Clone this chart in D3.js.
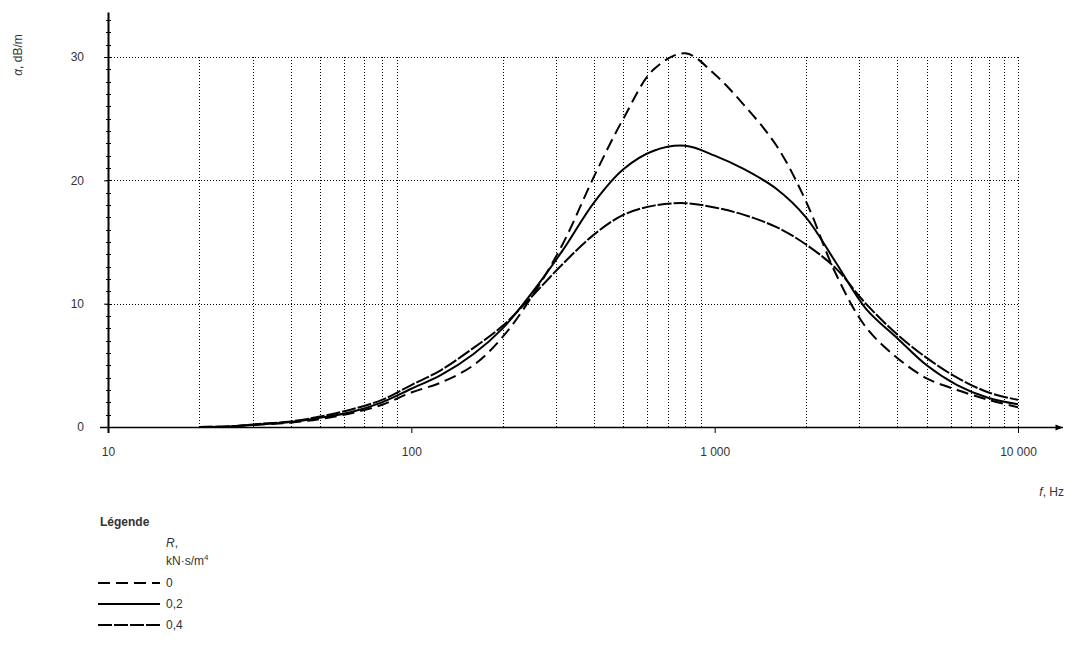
<!DOCTYPE html>
<html>
<head>
<meta charset="utf-8">
<script src="https://cdn.jsdelivr.net/npm/d3@7"></script>
<style>
body { margin: 0; background: #fff; }
svg text { font-family: "Liberation Sans", Arial, sans-serif; font-size: 12px; fill: #333; }
</style>
</head>
<body>
<svg width="1077" height="664"></svg>
<script>
// frequencies, Hz
var freqs = [20, 25, 31.5, 40, 50, 63, 80, 100, 125, 160, 200, 250, 315, 400, 500, 630, 800,
	1000, 1250, 1600, 2000, 2500, 3150, 4000, 5000, 6300, 8000, 10000];

// attenuation, dB/m, one array per R value
var r0 = [0, 0.05, 0.2, 0.35, 0.65, 1.1, 1.8, 2.8, 3.6, 5.0, 7.3, 10.6, 14.8, 20.3, 25.0, 29.0, 30.3,
	28.6, 26.1, 22.8, 18.3, 12.5, 8.1, 5.6, 3.95, 3.0, 2.2, 1.6];
var r02 = [0, 0.05, 0.2, 0.4, 0.75, 1.2, 2.0, 3.1, 4.2, 5.9, 8.0, 10.9, 14.3, 18.2, 20.9, 22.4, 22.8,
	22.0, 20.9, 19.3, 17.0, 13.4, 9.6, 7.2, 5.0, 3.4, 2.35, 1.85];
var r04 = [0, 0.05, 0.25, 0.45, 0.85, 1.4, 2.2, 3.4, 4.6, 6.4, 8.2, 10.6, 13.2, 15.6, 17.2, 17.95, 18.15,
	17.8, 17.2, 16.2, 14.8, 12.9, 10.0, 7.5, 5.6, 4.0, 2.8, 2.2];

var seriesNames = ["0", "0,2", "0,4"];
var xTickValues = [10, 100, 1000, 10000];
var xTickLabels = ["10", "100", "1 000", "10 000"];
var yTickValues = [0, 10, 20, 30];

var svg = d3.select("svg");

var x = d3.scaleLog().domain([10, 10000]).range([108, 1018]);
var y = d3.scaleLinear().domain([0, 30]).range([427, 57]);

var dashes = ["12,6", null, "14,2"];

// grid
var gridX = [];
[10, 100, 1000].forEach(function(d) {
	for (var k = 2; k <= 9; k++) gridX.push(d * k);
});
gridX.push(10000);

var grid = svg.append("g");
grid.selectAll(".gx")
	.data(gridX)
	.enter()
	.append("line")
	.attr("x1", function(d) { return Math.round(x(d)) + 0.5; })
	.attr("x2", function(d) { return Math.round(x(d)) + 0.5; })
	.attr("y1", y(30))
	.attr("y2", y(0))
	.attr("stroke", "#000")
	.attr("stroke-dasharray", "1,2");

grid.selectAll(".gy")
	.data([10, 20, 30])
	.enter()
	.append("line")
	.attr("x1", x(10))
	.attr("x2", x(10000))
	.attr("y1", function(d) { return Math.round(y(d)) + 0.5; })
	.attr("y2", function(d) { return Math.round(y(d)) + 0.5; })
	.attr("stroke", "#000")
	.attr("stroke-dasharray", "1,2");

// arrow for x axis
svg.append("defs").append("marker")
	.attr("id", "arrow")
	.attr("viewBox", "0 -5 10 10")
	.attr("refX", 10)
	.attr("refY", 0)
	.attr("orient", "auto")
	.attr("markerWidth", 8)
	.attr("markerHeight", 5)
	.append("path")
	.attr("d", "M0,-4L10,0L0,4Z")
	.attr("fill", "#000");

// axes
var xAxis = d3.axisBottom(x)
	.tickValues(xTickValues)
	.tickFormat(function(d, i) { return xTickLabels[i]; })
	.tickSize(6)
	.tickPadding(14);

var gx = svg.append("g")
	.attr("transform", "translate(0," + y(0) + ")")
	.call(xAxis);
gx.select(".domain").remove();
gx.selectAll("text").attr("font-size", 12);

svg.append("line")
	.attr("x1", x(10) - 8)
	.attr("x2", x(10000) + 45)
	.attr("y1", y(0) + 0.5)
	.attr("y2", y(0) + 0.5)
	.attr("stroke", "#000")
	.attr("stroke-width", 1.5)
	.attr("marker-end", "url(#arrow)");

var yAxis = d3.axisLeft(y)
	.tickValues(yTickValues)
	.tickSize(4)
	.tickPadding(20);

var gy = svg.append("g")
	.attr("transform", "translate(" + x(10) + ",0)")
	.call(yAxis);
gy.select(".domain").remove();

svg.append("line")
	.attr("x1", x(10) + 0.5)
	.attr("x2", x(10) + 0.5)
	.attr("y1", y(33.6))
	.attr("y2", y(0) + 6)
	.attr("stroke", "#000")
	.attr("stroke-width", 2);

// minor ticks on y axis
svg.append("g").selectAll("line")
	.data(d3.range(0, 34, 1))
	.enter()
	.append("line")
	.attr("x1", x(10) - 2)
	.attr("x2", x(10) + 3)
	.attr("y1", function(d) { return Math.round(y(d)) + 0.5; })
	.attr("y2", function(d) { return Math.round(y(d)) + 0.5; })
	.attr("stroke", "#000");

// axis titles
svg.append("text")
	.attr("transform", "translate(22,55) rotate(-90)")
	.attr("text-anchor", "middle")
	.html('<tspan font-style="italic">α</tspan>, dB/m');

svg.append("text")
	.attr("x", 1064)
	.attr("y", 496)
	.attr("text-anchor", "end")
	.html('<tspan font-style="italic">f</tspan>, Hz');

// curves
var line = d3.line()
	.x(function(d, i) { return x(freqs[i]); })
	.y(function(d) { return y(d); })
	.curve(d3.curveCatmullRom.alpha(0.5));

var series = [r0, r02, r04];

svg.append("g").selectAll("path")
	.data(series)
	.enter()
	.append("path")
	.attr("d", line)
	.attr("fill", "none")
	.attr("stroke", "#000")
	.attr("stroke-width", 2)
	.attr("stroke-dasharray", function(d, i) { return dashes[i]; });

// legend
var legend = svg.append("g");
legend.append("text")
	.attr("x", 100)
	.attr("y", 526)
	.attr("font-weight", "bold")
	.text("Légende");
legend.append("text")
	.attr("x", 166)
	.attr("y", 547)
	.html('<tspan font-style="italic">R</tspan>,');
legend.append("text")
	.attr("x", 166)
	.attr("y", 565)
	.html('kN·s/m<tspan dy="-5" font-size="8">4</tspan>');

var items = legend.selectAll(".item")
	.data(seriesNames)
	.enter()
	.append("g")
	.attr("transform", function(d, i) { return "translate(0," + (583 + i * 21) + ")"; });

items.append("line")
	.attr("x1", 98)
	.attr("x2", 160)
	.attr("stroke", "#000")
	.attr("stroke-width", 2)
	.attr("stroke-dasharray", function(d, i) { return dashes[i]; });

items.append("text")
	.attr("x", 166)
	.attr("y", 4)
	.text(function(d) { return d; });
</script>
</body>
</html>
